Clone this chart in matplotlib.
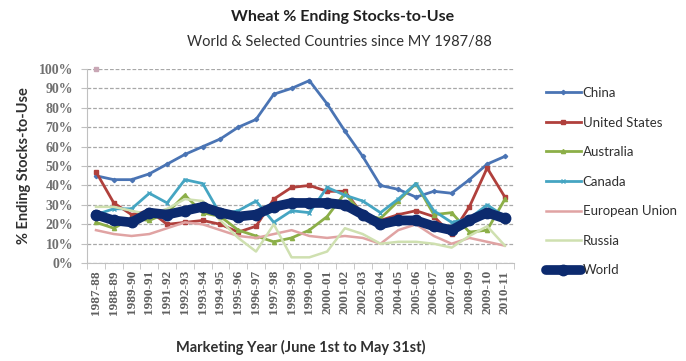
import matplotlib
matplotlib.use("Agg")
import matplotlib.pyplot as plt
import numpy as np

years = ["1987-88", "1988-89", "1989-90", "1990-91", "1991-92", "1992-93", "1993-94",
         "1994-95", "1995-96", "1996-97", "1997-98", "1998-99", "1999-00", "2000-01",
         "2001-02", "2002-03", "2003-04", "2004-05", "2005-06", "2006-07", "2007-08",
         "2008-09", "2009-10", "2010-11"]

china = [45, 43, 43, 46, 51, 56, 60, 64, 70, 74, 87, 90, 94, 82, 68, 55, 40, 38, 34, 37, 36, 43, 51, 55]
united_states = [47, 31, 25, 27, 20, 21, 22, 20, 16, 19, 33, 39, 40, 37, 37, 25, 22, 25, 27, 24, 15, 29, 49, 34]
australia = [21, 18, 23, 22, 26, 35, 26, 24, 17, 14, 11, 13, 17, 24, 36, 25, 23, 32, 41, 25, 26, 16, 17, 33]
canada = [25, 28, 28, 36, 31, 43, 41, 25, 27, 32, 21, 27, 26, 39, 35, 32, 26, 33, 41, 27, 21, 23, 30, 24]
european_union = [17, 15, 14, 15, 18, 21, 20, 17, 14, 13, 15, 17, 14, 13, 14, 13, 10, 17, 20, 14, 10, 13, 11, 9]
russia = [29, 29, 27, 25, 28, 33, 32, 22, 13, 6, 20, 3, 3, 6, 18, 15, 10, 11, 11, 10, 8, 14, 19, 9]
world = [25, 22, 21, 26, 25, 27, 29, 26, 24, 25, 29, 31, 31, 31, 30, 25, 20, 22, 22, 19, 17, 22, 26, 23]
stray_point = [100]

yticks = [0, 10, 20, 30, 40, 50, 60, 70, 80, 90, 100]

fig = plt.figure(figsize=(6.86, 3.61), dpi=100)
ax = fig.add_axes([0.127, 0.271, 0.622, 0.538])

x = np.arange(len(years))

series = [
    ("China", china, "#4a74b4", "D", 2.0, 2.2),
    ("United States", united_states, "#b0403c", "s", 2.0, 3.0),
    ("Australia", australia, "#8caf48", "^", 2.0, 3.0),
    ("Canada", canada, "#45a5c2", "x", 2.0, 3.0),
    ("European Union", european_union, "#e0a3a3", None, 1.8, 0),
    ("Russia", russia, "#cfe0b0", None, 1.8, 0),
]
handles = []
for name, vals, col, mk, lw, ms in series:
    h, = ax.plot(x, vals, color=col, lw=lw, marker=mk, ms=ms, mew=1.0, label=name, zorder=3)
    handles.append(h)
hw, = ax.plot(x, world, color="#0c2a6e", lw=7, marker="o", ms=7.5, label="World", zorder=4,
              solid_capstyle="round", solid_joinstyle="round")
handles.append(hw)
ax.plot(x[:1], stray_point, ls="none", marker="s", ms=3.5, color="#c9a7b5", zorder=3,
        clip_on=False)

ax.set_xlim(-0.5, len(years) - 0.5)
ax.set_ylim(0, 100)
ax.set_yticks(yticks)
ax.set_yticklabels([f"{v}%" for v in yticks], family="Liberation Serif", fontsize=10,
                   color="#707070", fontweight="bold")
ax.set_xticks(x)
ax.set_xticklabels(years, rotation=90, family="Liberation Serif", fontsize=9.5,
                   color="#606060", fontweight="bold")
ax.set_xticks(np.arange(-0.5, len(years)), minor=True)
ax.tick_params(axis="x", which="major", length=0, pad=5)
ax.tick_params(axis="x", which="minor", length=4, color="#c0c0c0")
ax.tick_params(axis="y", length=4, color="#c0c0c0", pad=6)

ax.grid(axis="y", color="#a8a8a8", lw=0.9, ls=(0, (3, 1.5)))
ax.set_axisbelow(True)
for s in ["top", "right"]:
    ax.spines[s].set_visible(False)
ax.spines["left"].set_color("#c0c0c0")
ax.spines["bottom"].set_color("#c0c0c0")

ax.set_ylabel("% Ending Stocks-to-Use", family="Lato", fontweight="bold", fontsize=10.5,
              color="#303030", labelpad=6)
ax.set_xlabel("Marketing Year (June 1st to May 31st)", family="Lato", fontweight="bold",
              fontsize=10.5, color="#303030", labelpad=18)

fig.text(0.50, 0.953, "Wheat % Ending Stocks-to-Use", ha="center", va="center",
         family="Lato", fontweight="bold", fontsize=11.5, color="#202020")
fig.text(0.495, 0.883, "World & Selected Countries since MY 1987/88", ha="center", va="center",
         family="Lato", fontsize=10.5, color="#303030")

leg = fig.legend(handles=handles, loc="upper left", bbox_to_anchor=(0.778, 0.792),
                 frameon=False, prop={"family": "Lato", "size": 9.5}, handlelength=2.7,
                 handletextpad=0.1, labelspacing=1.33, labelcolor="#303030")

fig.savefig("out.png", dpi=100)
